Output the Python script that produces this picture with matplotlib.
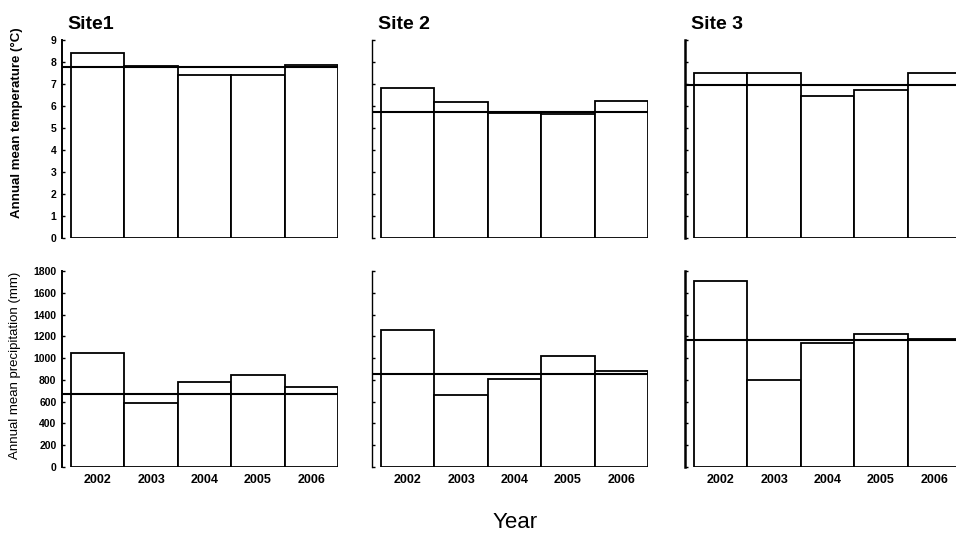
import matplotlib
matplotlib.use("Agg")
import matplotlib.pyplot as plt

plt.rcParams['font.family'] = ['Liberation Sans', 'DejaVu Sans']

# values
years = ['2002', '2003', '2004', '2005', '2006']
sites = ['Site1', 'Site 2', 'Site 3']

temp_site1 = [8.4, 7.8, 7.4, 7.4, 7.85]
temp_site2 = [6.8, 6.2, 5.7, 5.62, 6.25]
temp_site3 = [7.5, 7.5, 6.45, 6.75, 7.5]
temp_mean = [7.78, 5.72, 6.95]

precip_site1 = [1050, 590, 780, 845, 735]
precip_site2 = [1260, 660, 810, 1020, 880]
precip_site3 = [1710, 800, 1140, 1220, 1180]
precip_mean = [670, 850, 1170]

temps = [temp_site1, temp_site2, temp_site3]
precips = [precip_site1, precip_site2, precip_site3]

fig = plt.figure(figsize=(9.56, 5.34), dpi=100)

lefts = [62 / 956, 372 / 956, 685 / 956]
width = 276 / 956
top_row = (1 - 238 / 534, 198 / 534)
bot_row = (1 - 467 / 534, 196 / 534)
spine_w = [1.4, 1.0, 1.8]

x = list(range(len(years)))

for i in range(3):
    # temperature row
    ax = fig.add_axes([lefts[i], top_row[0], width, top_row[1]])
    ax.bar(x, temps[i], width=1.0, color='white', edgecolor='black', linewidth=1.3)
    ax.axhline(temp_mean[i], color='black', linewidth=1.5)
    ax.set_ylim(0, 9)
    ax.set_yticks(range(10))
    ax.set_xlim(-0.67, 4.5)
    ax.set_xticks([])
    ax.set_title(sites[i], loc='left', fontsize=14, fontweight='bold',
                 x=0.02, pad=8)

    # precipitation row
    bx = fig.add_axes([lefts[i], bot_row[0], width, bot_row[1]])
    bx.bar(x, precips[i], width=1.0, color='white', edgecolor='black', linewidth=1.3)
    bx.axhline(precip_mean[i], color='black', linewidth=1.5)
    bx.set_ylim(0, 1800)
    bx.set_yticks(range(0, 1801, 200))
    bx.set_xlim(-0.67, 4.5)
    bx.set_xticks(x)
    bx.set_xticklabels(years, fontsize=9, fontweight='bold')
    bx.tick_params(axis='x', length=0, pad=5)

    for a in (ax, bx):
        for s in ('top', 'right', 'bottom'):
            a.spines[s].set_visible(False)
        a.spines['left'].set_linewidth(spine_w[i])
        a.tick_params(axis='y', direction='in', length=2.5, width=1,
                      labelsize=7.5, pad=4)
        if i > 0:
            a.tick_params(axis='y', labelleft=False)
        else:
            for lab in a.get_yticklabels():
                lab.set_fontweight('bold')

    if i == 0:
        ax.set_ylabel('Annual mean temperature (\u00b0C)', fontsize=9.5, fontweight='bold')
        ax.yaxis.set_label_coords(-0.14, 0.58)
        bx.set_ylabel('Annual mean precipitation (mm)', fontsize=9.5)
        bx.yaxis.set_label_coords(-0.15, 0.52)

fig.text(515 / 956, 1 - 522 / 534, 'Year', fontsize=16, ha='center', va='center')

fig.savefig('out.png', dpi=100)
